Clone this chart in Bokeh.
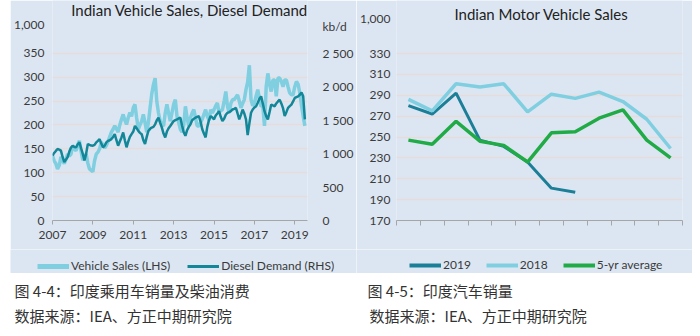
from bokeh.plotting import figure
from bokeh.models import (LinearAxis, Range1d, FixedTicker, Legend, LegendItem,
                          Label, Spacer)
from bokeh.layouts import column, row
from bokeh.embed import file_html
from bokeh.resources import INLINE

# ---------------- data ----------------
start_year = 2007
# Indian vehicle sales (LHS, thousand units), monthly from Jan 2007
vehicle_sales = [
    136, 125, 119, 108, 115, 133, 125, 119, 128, 139, 135, 139,   # 2007
    157, 150, 146, 158, 167, 145, 126, 132, 139, 120, 108, 105,   # 2008
    102, 125, 139, 143, 150, 164, 158, 152, 157, 165, 175, 185,   # 2009
    191, 198, 192, 185, 200, 212, 222, 210, 201, 215, 226, 218,   # 2010
    236, 243, 215, 191, 200, 208, 222, 205, 185, 205, 236, 265,   # 2011
    285, 298, 249, 225, 208, 200, 198, 225, 243, 225, 208, 225,   # 2012
    243, 253, 218, 205, 191, 185, 200, 239, 215, 198, 215, 225,   # 2013
    232, 215, 198, 198, 205, 212, 222, 232, 218, 210, 232, 225,   # 2014
    232, 240, 246, 226, 230, 232, 250, 270, 239, 225, 245, 253,   # 2015
    253, 258, 263, 250, 236, 245, 253, 274, 290, 325, 253, 240,   # 2016
    246, 260, 274, 255, 239, 240, 198, 280, 308, 285, 270, 294,   # 2017
    294, 260, 298, 298, 291, 280, 294, 294, 280, 267, 263, 263,   # 2018
    280, 291, 285, 267, 240, 218, 198,                            # 2019
]
# Indian diesel demand (RHS, kb/d), monthly from Jan 2007
diesel_demand = [
    970, 1010, 1040, 1069, 1060, 1044, 950, 873, 910, 947, 1030, 1090,        # 2007
    1118, 1100, 1094, 1140, 1168, 1080, 996, 897, 1000, 1143, 1130, 1120,     # 2008
    1118, 1130, 1168, 1190, 1217, 1150, 1094, 1120, 1168, 1190, 1200, 1217,   # 2009
    1250, 1291, 1200, 1118, 1180, 1242, 1316, 1200, 1094, 1180, 1250, 1291,   # 2010
    1330, 1413, 1380, 1339, 1310, 1291, 1200, 1143, 1250, 1339, 1370, 1389,   # 2011
    1400, 1438, 1500, 1537, 1460, 1389, 1300, 1242, 1330, 1380, 1413, 1450,   # 2012
    1487, 1500, 1512, 1525, 1537, 1420, 1320, 1266, 1350, 1400, 1438, 1500,   # 2013
    1520, 1537, 1550, 1561, 1480, 1364, 1300, 1242, 1400, 1500, 1561, 1540,   # 2014
    1512, 1570, 1600, 1634, 1550, 1487, 1520, 1580, 1610, 1620, 1634, 1660,   # 2015
    1670, 1684, 1600, 1512, 1580, 1659, 1600, 1512, 1276, 1450, 1610, 1660,   # 2016
    1690, 1708, 1760, 1820, 1856, 1750, 1634, 1560, 1512, 1620, 1733, 1720,   # 2017
    1708, 1750, 1780, 1807, 1750, 1680, 1561, 1620, 1684, 1710, 1733, 1780,   # 2018
    1832, 1845, 1856, 1880, 1915, 1856, 1512,                                 # 2019
]
left_x_ticks = [2007, 2009, 2011, 2013, 2015, 2017, 2019]
left_y_ticks = [0, 50, 100, 150, 200, 250, 300, 350]
right_y_ticks = [0, 500, 1000, 1500, 2000, 2500]
right_y_labels = ["0", "500", "1 000", "1 500", "2 000", "2 500"]

# Indian motor vehicle sales (thousand units) by month
month_numbers = [1, 2, 3, 4, 5, 6, 7, 8, 9, 10, 11, 12]
sales_2019 = [280, 272, 292, 247, 241, 226, 201, 197]
sales_2018 = [286, 275, 301, 298, 301, 274, 291, 287, 293, 284, 267, 239]
avg_5yr = [247, 243, 265, 246, 242, 226, 254, 255, 268, 276, 247, 230]
motor_y_ticks = [170, 190, 210, 230, 250, 270, 290, 310, 330]

# ---------------- styles ----------------
BG = "#dce6f2"
GRID = "#e6dcdc"
AXIS = "#a6a6a6"
TXT = "#3a3a3a"
LIGHT = "#7fcfe1"
DARK = "#138798"
DARK2 = "#1c7f98"
GREEN = "#21ab47"
FONT = "Lato"
CJK = "Noto Sans CJK SC"

x_dates = [start_year + i / 12 for i in range(len(vehicle_sales))]
x19 = [m - 0.5 for m in month_numbers[:len(sales_2019)]]
x18 = [m - 0.5 for m in month_numbers]

CH_H = 249          # chart figure height
LEG_H = 24          # legend strip height
L_BOTTOM = 26
R_BOTTOM = 29
L_FRAME = CH_H - L_BOTTOM
R_FRAME = CH_H - R_BOTTOM
L_PX_PER_UNIT = 169.5 / 350.0          # left chart: 0..350 spans 169.5 px
L_TOP = L_FRAME / L_PX_PER_UNIT
L_RATIO = 2500.0 / 350.0               # RHS / LHS scale
R_PX_PER_UNIT = 167.0 / 160.0          # right chart: 170..330 spans 167 px
R_TOP = 170 + R_FRAME / R_PX_PER_UNIT


def style_axis_text(ax, size="12px"):
    ax.major_label_text_font = FONT
    ax.major_label_text_font_size = size
    ax.major_label_text_color = TXT


def bare_value_axis(ax, standoff):
    ax.axis_line_color = None
    ax.major_tick_line_color = None
    ax.minor_tick_line_color = None
    ax.major_tick_out = 0
    ax.major_tick_in = 0
    ax.minor_tick_out = 0
    ax.major_label_standoff = standoff
    style_axis_text(ax)


def make_legend(items, loc, spacing):
    return Legend(items=items, orientation="horizontal", location=loc,
                  glyph_width=32, glyph_height=14, label_height=14, label_standoff=2,
                  spacing=spacing, padding=0, margin=0, background_fill_alpha=0,
                  border_line_color=None, label_text_font=FONT,
                  label_text_font_size="12px", label_text_color=TXT)


def legend_strip(width):
    # a strip whose (empty) view window only hosts the legend keys
    return figure(width=width, height=LEG_H, x_range=Range1d(-3, -2),
                  y_range=Range1d(-3, -2), x_axis_type=None, y_axis_type=None,
                  output_backend="svg", toolbar_location=None, min_border=0,
                  background_fill_color=BG, border_fill_color=BG,
                  outline_line_color=None)


# ---------------- left chart ----------------
f1 = figure(width=346, height=CH_H, x_range=Range1d(2007, 2019.63),
            y_range=Range1d(0, L_TOP), output_backend="svg", toolbar_location=None,
            min_border_left=39, min_border_right=47, min_border_top=0,
            min_border_bottom=L_BOTTOM, background_fill_color=BG,
            border_fill_color=BG, outline_line_color=None)
f1.extra_y_ranges = {"rhs": Range1d(0, L_TOP * L_RATIO)}

f1.line(x_dates, vehicle_sales, line_color=LIGHT, line_width=3.5)
f1.line(x_dates, diesel_demand, line_color=DARK, line_width=2.5, y_range_name="rhs")

f1.xgrid.grid_line_color = None
f1.ygrid.ticker = FixedTicker(ticks=left_y_ticks)
f1.ygrid.grid_line_color = GRID
f1.ygrid.grid_line_width = 1.5

xa = f1.xaxis[0]
xa.ticker = FixedTicker(ticks=left_x_ticks)
xa.axis_line_color = AXIS
xa.major_tick_line_color = AXIS
xa.major_tick_out = 4
xa.major_tick_in = 0
xa.minor_tick_line_color = None
xa.major_label_standoff = 6
style_axis_text(xa)

unit_tick_l = L_TOP - 24.5 / L_PX_PER_UNIT     # row of the "1,000" / "kb/d" notes
ya = f1.yaxis[0]
ya.ticker = FixedTicker(ticks=left_y_ticks + [unit_tick_l])
ya.major_label_overrides = {unit_tick_l: "1,000"}
bare_value_axis(ya, 8)

unit_tick_r = (L_TOP - 26.5 / L_PX_PER_UNIT) * L_RATIO
ra = LinearAxis(y_range_name="rhs",
                ticker=FixedTicker(ticks=right_y_ticks + [unit_tick_r]))
overrides = {t: l for t, l in zip(right_y_ticks, right_y_labels)}
overrides[unit_tick_r] = "kb/d"
ra.major_label_overrides = overrides
bare_value_axis(ra, 15)
f1.add_layout(ra, "right")

f1.add_layout(Label(x=137, y=L_FRAME - 12, x_units="screen", y_units="screen",
                    text="Indian Vehicle Sales, Diesel Demand", text_align="center",
                    text_baseline="middle", text_font=FONT, text_font_size="15px",
                    text_color="#222222"))

lg1 = legend_strip(346)
k_vs = lg1.line(x_dates, vehicle_sales, line_color=LIGHT, line_width=5)
k_dd = lg1.line(x_dates, diesel_demand, line_color=DARK, line_width=3)
lg1.add_layout(make_legend([LegendItem(label="Vehicle Sales (LHS)", renderers=[k_vs]),
                            LegendItem(label="Diesel Demand (RHS)", renderers=[k_dd])],
                           (27, 0), 17), "center")

# ---------------- right chart ----------------
f2 = figure(width=336, height=CH_H, x_range=Range1d(0, 12),
            y_range=Range1d(170, R_TOP), output_backend="svg", toolbar_location=None,
            min_border_left=37, min_border_right=10, min_border_top=0,
            min_border_bottom=R_BOTTOM, background_fill_color=BG,
            border_fill_color=BG, outline_line_color=None)

f2.line(x19, sales_2019, line_color=DARK2, line_width=3)
f2.line(x18, sales_2018, line_color=LIGHT, line_width=3.5)
f2.line(x18, avg_5yr, line_color=GREEN, line_width=3.5)

f2.xgrid.grid_line_color = None
f2.ygrid.ticker = FixedTicker(ticks=motor_y_ticks)
f2.ygrid.grid_line_color = GRID
f2.ygrid.grid_line_width = 1.5

xb = f2.xaxis[0]
xb.ticker = FixedTicker(ticks=list(range(0, 13)))
xb.major_label_overrides = {i: "" for i in range(0, 13)}
xb.axis_line_color = AXIS
xb.major_tick_line_color = AXIS
xb.major_tick_out = 5
xb.major_tick_in = 0
xb.minor_tick_line_color = None
style_axis_text(xb)

unit_tick_m = 170 + (R_FRAME - 18) / R_PX_PER_UNIT
yb = f2.yaxis[0]
yb.ticker = FixedTicker(ticks=motor_y_ticks + [unit_tick_m])
yb.major_label_overrides = {unit_tick_m: "1,000"}
bare_value_axis(yb, 6)

f2.add_layout(Label(x=145, y=R_FRAME - 13, x_units="screen", y_units="screen",
                    text="Indian Motor Vehicle Sales", text_align="center",
                    text_baseline="middle", text_font=FONT, text_font_size="15px",
                    text_color="#222222"))

lg2 = legend_strip(336)
k19 = lg2.line(x19, sales_2019, line_color=DARK2, line_width=4)
k18 = lg2.line(x18, sales_2018, line_color=LIGHT, line_width=4)
k5 = lg2.line(x18, avg_5yr, line_color=GREEN, line_width=4)
lg2.add_layout(make_legend([LegendItem(label="2019", renderers=[k19]),
                            LegendItem(label="2018", renderers=[k18]),
                            LegendItem(label="5-yr average", renderers=[k5])],
                           (53, 1), 15), "center")

# ---------------- captions ----------------
cap = figure(width=700, height=63, x_range=Range1d(0, 1), y_range=Range1d(0, 1),
             x_axis_type=None, y_axis_type=None, output_backend="svg",
             toolbar_location=None, min_border=0, background_fill_color="white",
             border_fill_color="white", outline_line_color=None)
captions = [
    (14, 46, "图 4-4：印度乘用车销量及柴油消费"),
    (14, 21, "数据来源：IEA、方正中期研究院"),
    (367, 46, "图 4-5：印度汽车销量"),
    (369, 21, "数据来源：IEA、方正中期研究院"),
]
for cx, cy, txt in captions:
    cap.add_layout(Label(x=cx, y=cy, x_units="screen", y_units="screen", text=txt,
                         text_align="left", text_baseline="middle", text_font=CJK,
                         text_font_size="15px", text_color="#333333"))

layout = column(row(Spacer(width=10, height=CH_H), f1, f2),
                row(Spacer(width=10, height=LEG_H), lg1, lg2),
                cap)

open("out.html", "w").write(file_html(layout, INLINE))
